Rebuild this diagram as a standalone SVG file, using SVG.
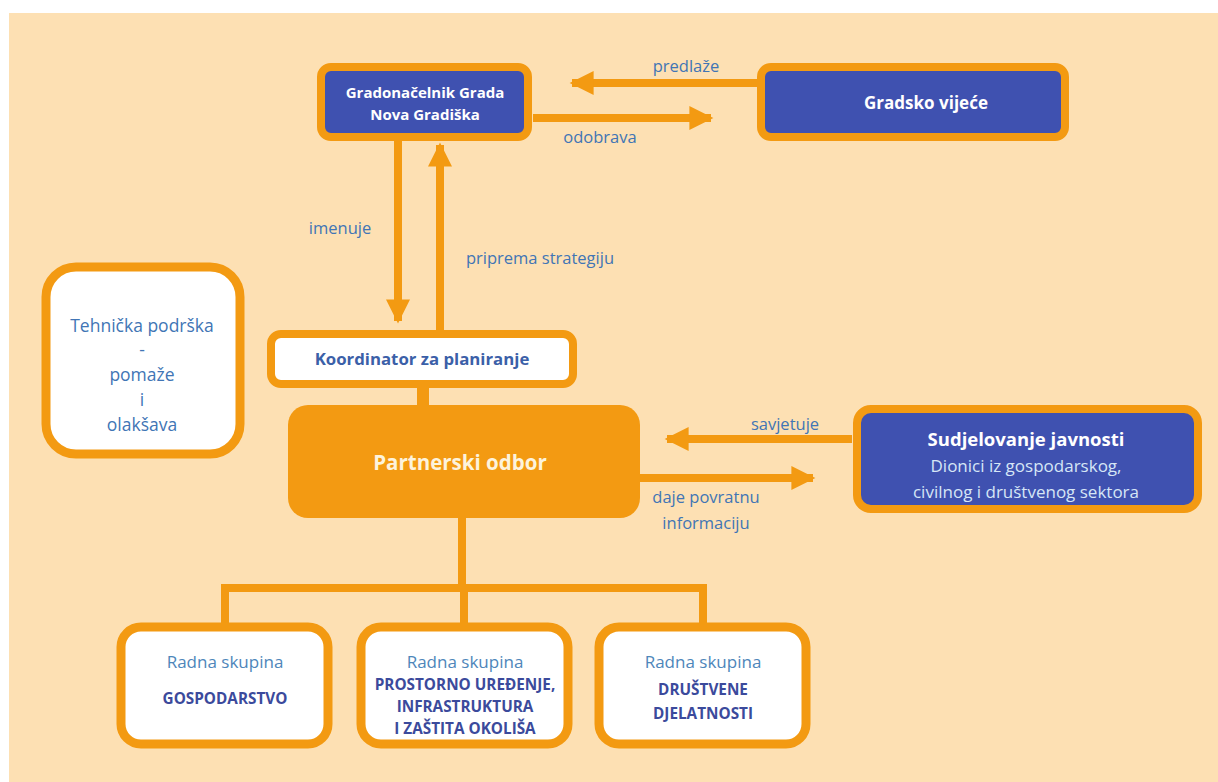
<svg xmlns="http://www.w3.org/2000/svg" width="1218" height="782" viewBox="0 0 1218 782">
<style>
.ob{stroke:#F39A12;stroke-width:8;}
.ln{stroke:#F39A12;stroke-width:8;fill:none;}
.t{font-family:"Open Sans","Liberation Sans",sans-serif;text-anchor:middle;}
.lbl{font-size:16.5px;fill:#4175B5;}
.wt{font-size:15px;font-weight:bold;fill:#FFFFFF;}
.rs{font-size:17px;fill:#4E86BA;}
.cap{font-size:15.3px;font-weight:bold;fill:#3B4A9C;}
.tp{font-size:17.5px;fill:#4175B5;}
</style>
<defs>
<marker id="ah" viewBox="0 0 10 10" refX="9" refY="5" markerWidth="3.4" markerHeight="3" orient="auto" markerUnits="strokeWidth">
<path d="M0,0 L10,5 L0,10 z" fill="#F39A12"/>
</marker>
</defs>
<rect width="1218" height="782" fill="#FFFFFF"/>
<rect x="9" y="13" width="1209" height="769" fill="#FDE0B3"/>

<g id="connectors">
<line class="ln" x1="757" y1="83" x2="572" y2="83" marker-end="url(#ah)"/>
<line class="ln" x1="533" y1="118" x2="711" y2="118" marker-end="url(#ah)"/>
<line class="ln" x1="398" y1="140" x2="398" y2="321" marker-end="url(#ah)"/>
<line class="ln" x1="440" y1="332" x2="440" y2="145" marker-end="url(#ah)"/>
<line x1="423" y1="386" x2="423" y2="406" stroke="#F39A12" stroke-width="12"/>
<line class="ln" x1="852" y1="439" x2="667" y2="439" marker-end="url(#ah)"/>
<line class="ln" x1="640" y1="478" x2="813" y2="478" marker-end="url(#ah)"/>
<path class="ln" d="M462,516 V588 M221,588 H707 M225,588 V625 M464,588 V625 M703,588 V625"/>
<text class="t lbl" x="686" y="72">predlaže</text>
<text class="t lbl" x="600" y="143">odobrava</text>
<text class="t lbl" x="340" y="234">imenuje</text>
<text class="t lbl" x="540" y="264">priprema strategiju</text>
<text class="t lbl" x="785" y="430">savjetuje</text>
<text class="t lbl" x="706" y="503">daje povratnu</text>
<text class="t lbl" x="706" y="529">informaciju</text>
</g>

<g id="gradonacelnik">
<rect class="ob" x="321" y="67" width="207" height="70" rx="10" fill="#3F51B0"/>
<text class="t wt" x="425" y="98">Gradonačelnik Grada</text>
<text class="t wt" x="425" y="120">Nova Gradiška</text>
</g>

<g id="gradsko-vijece">
<rect class="ob" x="761" y="67" width="304" height="70" rx="10" fill="#3F51B0"/>
<text class="t wt" x="926" y="109" style="font-size:17px">Gradsko vijeće</text>
</g>

<g id="koordinator">
<rect class="ob" x="271" y="334" width="302" height="50" rx="10" fill="#FFFFFF"/>
<text class="t" x="422" y="365" style="font-size:16.8px;font-weight:bold;fill:#3B60A8">Koordinator za planiranje</text>
</g>

<g id="partnerski-odbor">
<rect x="288" y="405" width="352" height="113" rx="20" fill="#F39A12"/>
<text class="t" x="460" y="470" style="font-size:20.5px;font-weight:bold;fill:#FDF3DC">Partnerski odbor</text>
</g>

<g id="tehnicka-podrska">
<rect class="ob" x="46" y="267" width="194" height="187" rx="30" fill="#FFFFFF" style="stroke-width:9"/>
<text class="t tp" x="142" y="332">Tehnička podrška</text>
<text class="t tp" x="142" y="356">-</text>
<text class="t tp" x="142" y="381">pomaže</text>
<text class="t tp" x="142" y="406">i</text>
<text class="t tp" x="142" y="431">olakšava</text>
</g>

<g id="sudjelovanje">
<rect class="ob" x="857" y="409" width="341" height="100" rx="14" fill="#3F51B0"/>
<text class="t" x="1026" y="446" style="font-size:18.5px;font-weight:bold;fill:#FFFFFF">Sudjelovanje javnosti</text>
<text class="t" x="1026" y="472" style="font-size:17px;fill:#D6E6F6">Dionici iz gospodarskog,</text>
<text class="t" x="1026" y="498" style="font-size:17px;fill:#D6E6F6">civilnog i društvenog sektora</text>
</g>

<g id="rs-gospodarstvo">
<rect class="ob" x="121" y="627" width="207" height="117" rx="20" fill="#FFFFFF" style="stroke-width:9"/>
<text class="t rs" x="225" y="668">Radna skupina</text>
<text class="t cap" x="225" y="704">GOSPODARSTVO</text>
</g>

<g id="rs-prostorno">
<rect class="ob" x="361" y="627" width="207" height="117" rx="20" fill="#FFFFFF" style="stroke-width:9"/>
<text class="t rs" x="465" y="668">Radna skupina</text>
<text class="t cap" x="465" y="690">PROSTORNO UREĐENJE,</text>
<text class="t cap" x="465" y="712">INFRASTRUKTURA</text>
<text class="t cap" x="465" y="734">I ZAŠTITA OKOLIŠA</text>
</g>

<g id="rs-drustvene">
<rect class="ob" x="599" y="627" width="207" height="117" rx="20" fill="#FFFFFF" style="stroke-width:9"/>
<text class="t rs" x="703" y="668">Radna skupina</text>
<text class="t cap" x="703" y="695">DRUŠTVENE</text>
<text class="t cap" x="703" y="719">DJELATNOSTI</text>
</g>
</svg>
